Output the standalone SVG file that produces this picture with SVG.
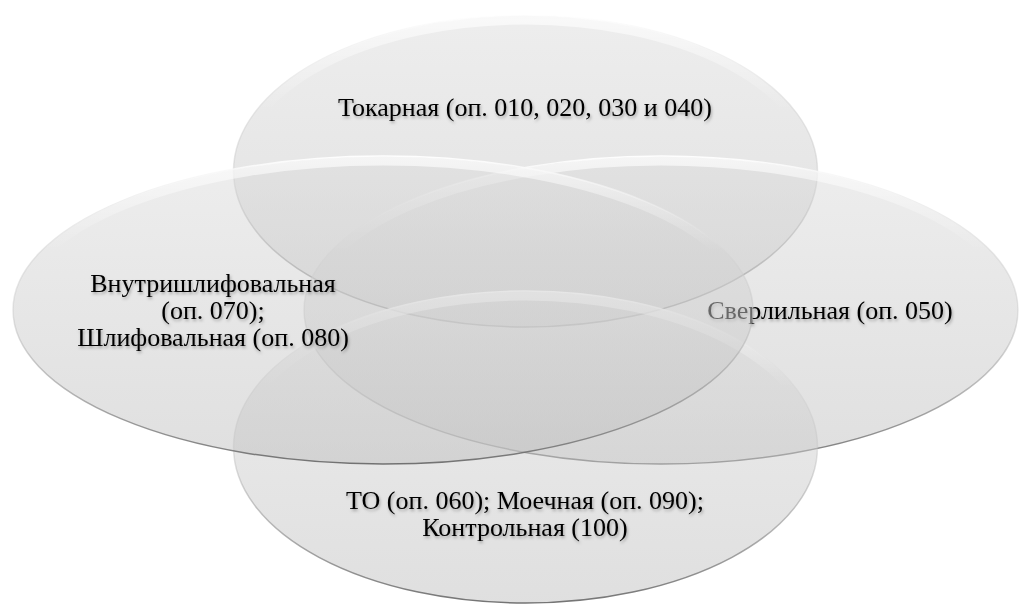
<svg xmlns="http://www.w3.org/2000/svg" width="1019" height="605" viewBox="0 0 1019 605">
<defs>
 <linearGradient id="fillG" x1="0" y1="0" x2="0" y2="1">
  <stop offset="0" stop-color="#dcdcdc"/>
  <stop offset="1" stop-color="#c0c0c0"/>
 </linearGradient>
 <linearGradient id="edgeG" x1="0" y1="0" x2="0" y2="1">
  <stop offset="0" stop-color="#ffffff" stop-opacity="0.95"/>
  <stop offset="0.5" stop-color="#bdbdbd" stop-opacity="0.35"/>
  <stop offset="1" stop-color="#666666" stop-opacity="0.9"/>
 </linearGradient>
 <linearGradient id="hiG" x1="0" y1="0" x2="0" y2="1">
  <stop offset="0" stop-color="#ffffff" stop-opacity="0.65"/>
  <stop offset="0.3" stop-color="#ffffff" stop-opacity="0"/>
 </linearGradient>
 <filter id="ts" x="-10%" y="-40%" width="120%" height="180%">
  <feDropShadow dx="1" dy="2" stdDeviation="1.5" flood-color="#000" flood-opacity="0.3"/>
 </filter>
</defs>
<style>
 .shape{fill:url(#fillG);fill-opacity:0.5;stroke:url(#edgeG);stroke-width:1.5}
 .hi{fill:none;stroke:url(#hiG);stroke-width:9}
 .lbl{font-family:"Liberation Serif","Times New Roman",serif;font-size:26px;fill:#000;text-anchor:middle;filter:url(#ts)}
</style>
<rect width="1019" height="605" fill="#ffffff"/>
<g id="node-top">
 <ellipse class="shape" cx="525.5" cy="171" rx="292" ry="156"/>
 <ellipse class="hi" cx="525.5" cy="171" rx="287" ry="151"/>
 <text class="lbl" x="525" y="116">Токарная (оп. 010, 020, 030 и 040)</text>
</g>
<g id="node-right">
 <ellipse class="shape" cx="661" cy="310" rx="357" ry="154"/>
 <ellipse class="hi" cx="661" cy="310" rx="352" ry="149"/>
 <text class="lbl" x="830" y="319">Сверлильная (оп. 050)</text>
</g>
<g id="node-bottom">
 <ellipse class="shape" cx="525.5" cy="447" rx="292" ry="156"/>
 <ellipse class="hi" cx="525.5" cy="447" rx="287" ry="151"/>
 <text class="lbl" x="525" y="509">ТО (оп. 060); Моечная (оп. 090);</text>
 <text class="lbl" x="525" y="536">Контрольная (100)</text>
</g>
<g id="node-left">
 <ellipse class="shape" cx="383" cy="310" rx="370" ry="154"/>
 <ellipse class="hi" cx="383" cy="310" rx="365" ry="149"/>
 <text class="lbl" x="213" y="292">Внутришлифовальная</text>
 <text class="lbl" x="213" y="319">(оп. 070);</text>
 <text class="lbl" x="213" y="346">Шлифовальная (оп. 080)</text>
</g>
</svg>
